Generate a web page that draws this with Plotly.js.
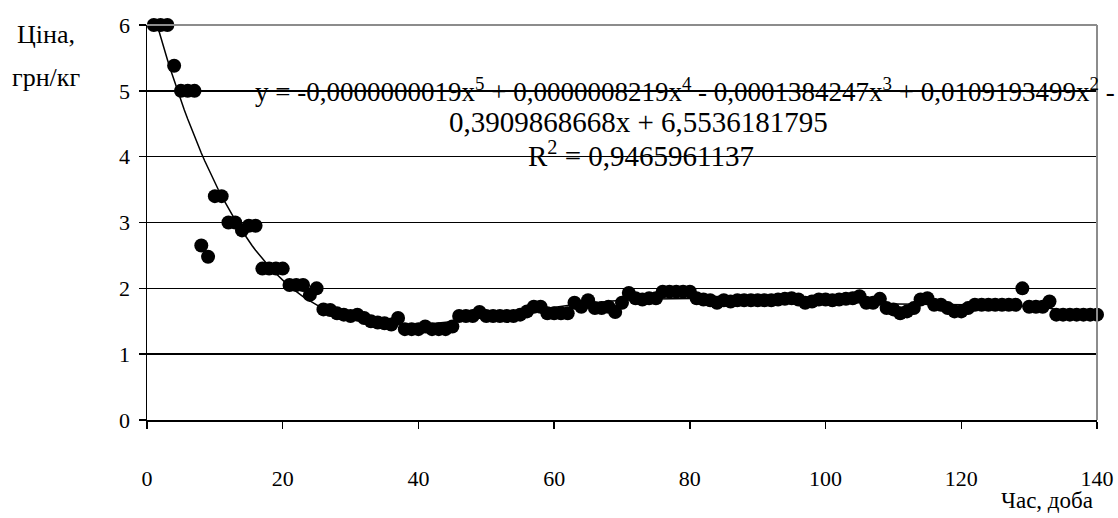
<!DOCTYPE html>
<html>
<head>
<meta charset="utf-8">
<script src="https://cdn.plot.ly/plotly-3.0.1.min.js"></script>
<style>
  html, body { margin: 0; padding: 0; background: #ffffff; }
  #chart { width: 1118px; height: 518px; }
</style>
</head>
<body>
<div id="chart"></div>
<script>
// Days (x values)
const days = [
  1,2,3,4,5,6,7,8,9,10,11,12,13,14,15,16,17,18,19,20,
  21,22,23,24,25,26,27,28,29,30,31,32,33,34,35,36,37,38,39,40,
  41,42,43,44,45,46,47,48,49,50,51,52,53,54,55,56,57,58,59,60,
  61,62,63,64,65,66,67,68,69,70,71,72,73,74,75,76,77,78,79,80,
  81,82,83,84,85,86,87,88,89,90,91,92,93,94,95,96,97,98,99,100,
  101,102,103,104,105,106,107,108,109,110,111,112,113,114,115,116,117,118,119,120,
  121,122,123,124,125,126,127,128,129,130,131,132,133,134,135,136,137,138,139,140
];
// Price, UAH/kg
const price = [
  6.00,6.00,6.00,5.38,5.00,5.00,5.00,2.65,2.48,3.40,3.40,3.00,3.00,2.88,2.95,2.95,2.30,2.30,2.30,2.30,
  2.05,2.05,2.05,1.90,2.00,1.68,1.67,1.62,1.60,1.58,1.60,1.55,1.50,1.48,1.47,1.45,1.55,1.38,1.38,1.38,
  1.42,1.38,1.38,1.38,1.42,1.58,1.58,1.58,1.64,1.58,1.58,1.58,1.58,1.58,1.60,1.65,1.72,1.72,1.62,1.62,
  1.62,1.62,1.78,1.72,1.82,1.70,1.70,1.72,1.64,1.78,1.93,1.85,1.83,1.85,1.85,1.95,1.95,1.95,1.95,1.95,
  1.85,1.83,1.82,1.78,1.82,1.80,1.82,1.82,1.82,1.82,1.82,1.82,1.83,1.84,1.85,1.83,1.78,1.80,1.83,1.83,
  1.82,1.83,1.84,1.85,1.88,1.78,1.78,1.84,1.70,1.68,1.62,1.65,1.70,1.83,1.85,1.75,1.75,1.70,1.65,1.65,
  1.70,1.75,1.75,1.75,1.75,1.75,1.75,1.75,2.00,1.72,1.72,1.72,1.80,1.60,1.60,1.60,1.60,1.60,1.60,1.60
];
// Text of the trendline label
const eqLine1 = "y = -0,0000000019x<sup>5</sup> + 0,0000008219x<sup>4</sup> - 0,0001384247x<sup>3</sup> + 0,0109193499x<sup>2</sup> -";
const eqLine2 = "0,3909868668x + 6,5536181795";
const eqLine3 = "R<sup>2</sup> = 0,9465961137";
const yTitle1 = "Ціна,";
const yTitle2 = "грн/кг";
const xTitle = "Час, доба";

// Polynomial (degree 5) least-squares trendline from the data, as a spreadsheet trendline does
function polyFit(xs, ys, deg, scale) {
  const n = deg + 1;
  const A = Array.from({length: n}, () => new Array(n + 1).fill(0));
  for (let k = 0; k < xs.length; k++) {
    const t = xs[k] / scale;
    const pw = [1];
    for (let i = 1; i <= 2 * deg; i++) pw.push(pw[i - 1] * t);
    for (let i = 0; i < n; i++) {
      for (let j = 0; j < n; j++) A[i][j] += pw[i + j];
      A[i][n] += pw[i] * ys[k];
    }
  }
  for (let c = 0; c < n; c++) {
    let p = c;
    for (let r = c + 1; r < n; r++) if (Math.abs(A[r][c]) > Math.abs(A[p][c])) p = r;
    [A[c], A[p]] = [A[p], A[c]];
    for (let r = 0; r < n; r++) {
      if (r === c) continue;
      const f = A[r][c] / A[c][c];
      for (let j = c; j <= n; j++) A[r][j] -= f * A[c][j];
    }
  }
  return A.map((row, i) => row[n] / A[i][i]);
}
const coef = polyFit(days, price, 5, 140);
const fitX = [], fitY = [];
for (let i = 0; i <= 278; i++) {
  const x = days[0] + i * 0.5;
  const t = x / 140;
  let y = 0, p = 1;
  for (let j = 0; j < coef.length; j++) { y += coef[j] * p; p *= t; }
  fitX.push(x); fitY.push(y);
}

const FONT = "Liberation Serif";

const traces = [
  {
    x: days, y: price, type: "scatter", mode: "markers",
    marker: { color: "#000000", size: 14 },
    cliponaxis: false, hoverinfo: "x+y"
  },
  {
    x: fitX, y: fitY, type: "scatter", mode: "lines",
    line: { color: "#000000", width: 1.5 },
    hoverinfo: "skip"
  }
];

const layout = {
  width: 1118, height: 518,
  margin: { l: 147, r: 21, t: 25, b: 98, pad: 0 },
  paper_bgcolor: "#ffffff", plot_bgcolor: "#ffffff",
  showlegend: false,
  font: { family: FONT, size: 22, color: "#000000" },
  xaxis: {
    range: [0, 140], tick0: 0, dtick: 20,
    ticks: "outside", ticklen: 7, tickwidth: 1.5, tickcolor: "#000000",
    showline: true, linecolor: "#000000", linewidth: 1.5,
    showgrid: false, zeroline: false,
    ticklabelstandoff: 31,
    tickfont: { family: FONT, size: 22, color: "#000000" }
  },
  yaxis: {
    range: [0, 6], tick0: 0, dtick: 1,
    ticks: "outside", ticklen: 7, tickwidth: 1.5, tickcolor: "#000000",
    showline: true, linecolor: "#000000", linewidth: 1.5,
    showgrid: true, gridcolor: "#000000", gridwidth: 1.5,
    zeroline: false,
    ticklabelstandoff: 4,
    tickfont: { family: FONT, size: 22, color: "#000000" }
  },
  shapes: [
    { type: "line", xref: "paper", yref: "paper", x0: 0, x1: 1, y0: 1, y1: 1,
      line: { color: "#8c8c8c", width: 2 }, layer: "above" },
    { type: "line", xref: "paper", yref: "paper", x0: 1, x1: 1, y0: 0, y1: 1,
      line: { color: "#8c8c8c", width: 2 }, layer: "above" }
  ],
  annotations: [
    { xref: "paper", yref: "paper", x: -0.106, y: 0.975, xanchor: "center", yanchor: "middle",
      text: yTitle1, showarrow: false, font: { family: FONT, size: 26 } },
    { xref: "paper", yref: "paper", x: -0.106, y: 0.866, xanchor: "center", yanchor: "middle",
      text: yTitle2, showarrow: false, font: { family: FONT, size: 26 } },
    { xref: "paper", yref: "paper", x: 0.947, y: -0.205, xanchor: "center", yanchor: "middle",
      text: xTitle, showarrow: false, font: { family: FONT, size: 23 } },
    { xref: "paper", yref: "paper", x: 0.566, y: 0.835, xanchor: "center", yanchor: "middle",
      text: eqLine1, showarrow: false, font: { family: FONT, size: 27 } },
    { xref: "paper", yref: "paper", x: 0.517, y: 0.755, xanchor: "center", yanchor: "middle",
      text: eqLine2, showarrow: false, font: { family: FONT, size: 29 } },
    { xref: "paper", yref: "paper", x: 0.52, y: 0.674, xanchor: "center", yanchor: "middle",
      text: eqLine3, showarrow: false, font: { family: FONT, size: 29 } }
  ]
};

Plotly.newPlot("chart", traces, layout, { displayModeBar: false, staticPlot: true });
</script>
</body>
</html>
